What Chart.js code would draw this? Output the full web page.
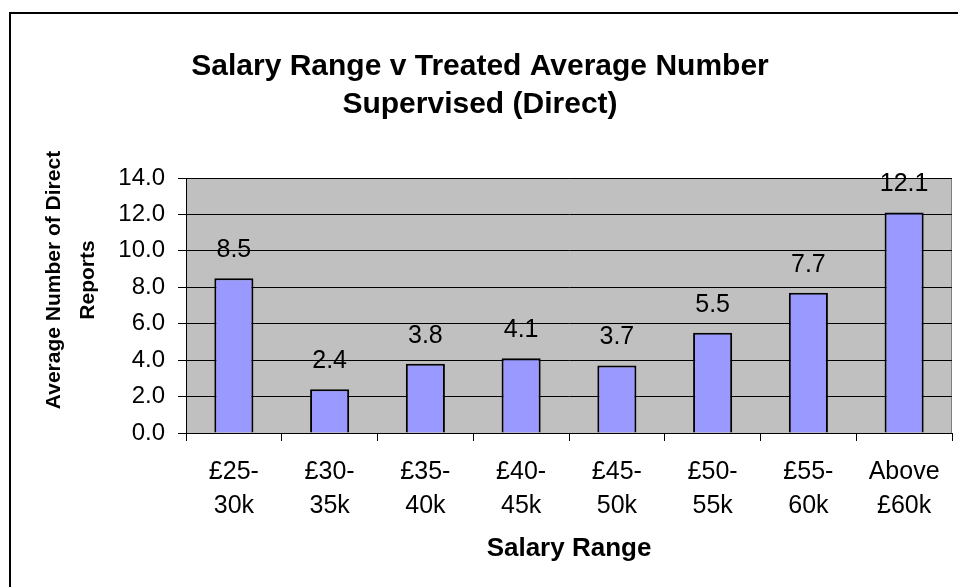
<!DOCTYPE html>
<html>
<head>
<meta charset="utf-8">
<script src="https://cdn.jsdelivr.net/npm/chart.js@4/dist/chart.umd.min.js"></script>
<style>
  html, body { margin: 0; padding: 0; background: #ffffff; }
  #wrap { position: relative; width: 958px; height: 587px; }
  canvas { display: block; }
</style>
</head>
<body>
<div id="wrap"><canvas id="c" width="958" height="587"></canvas></div>
<script>
// ---- data ----
const categories = [["£25-", "30k"], ["£30-", "35k"], ["£35-", "40k"], ["£40-", "45k"], ["£45-", "50k"], ["£50-", "55k"], ["£55-", "60k"], ["Above", "£60k"]];
const values = [8.5, 2.4, 3.8, 4.1, 3.7, 5.5, 7.7, 12.1];
const yTicks = [0, 2, 4, 6, 8, 10, 12, 14];
const titleLines = ["Salary Range v Treated Average Number", "Supervised (Direct)"];
const yTitleLines = ["Average Number of Direct", "Reports"];
const xTitle = "Salary Range";

const FONT = "'Liberation Sans', Arial, sans-serif";

const decor = {
  id: 'decor',
  beforeDraw(chart) {
    const ctx = chart.ctx;
    const a = chart.chartArea;
    ctx.save();
    ctx.fillStyle = '#ffffff';
    ctx.fillRect(0, 0, chart.width, chart.height);
    // outer frame
    ctx.strokeStyle = '#000000';
    ctx.lineWidth = 2;
    ctx.beginPath();
    ctx.moveTo(10, 600);
    ctx.lineTo(10, 13);
    ctx.lineTo(970, 13);
    ctx.stroke();
    // plot background
    ctx.fillStyle = '#C0C0C0';
    ctx.fillRect(a.left, a.top, a.right - a.left, a.bottom - a.top);
    ctx.strokeStyle = '#808080';
    ctx.lineWidth = 1;
    ctx.strokeRect(a.left + 0.5, a.top + 0.5, a.right - a.left - 1, a.bottom - a.top);
    ctx.restore();
  },
  afterDraw(chart) {
    const ctx = chart.ctx;
    const a = chart.chartArea;
    ctx.save();
    ctx.fillStyle = '#000000';
    ctx.textAlign = 'center';
    ctx.textBaseline = 'middle';
    // chart title
    ctx.font = "bold 30px " + FONT;
    ctx.fillText(titleLines[0], 480, 67);
    ctx.fillText(titleLines[1], 480, 105);
    // x title
    ctx.font = "bold 26px " + FONT;
    ctx.fillText(xTitle, (a.left + a.right) / 2, 549);
    // y title
    ctx.font = "bold 21px " + FONT;
    ctx.save();
    ctx.translate(0, 280);
    ctx.rotate(-Math.PI / 2);
    ctx.fillText(yTitleLines[0], 0, 54);
    ctx.fillText(yTitleLines[1], 0, 88);
    ctx.restore();
    // data labels
    ctx.font = "25px " + FONT;
    const meta = chart.getDatasetMeta(0);
    meta.data.forEach((bar, i) => {
      ctx.fillText(values[i].toFixed(1), bar.x, bar.y - 28);
    });
    ctx.restore();
  }
};

new Chart(document.getElementById('c'), {
  type: 'bar',
  data: {
    labels: categories,
    datasets: [{
      data: values,
      backgroundColor: '#9999FF',
      borderColor: '#000000',
      borderWidth: 2,
      categoryPercentage: 0.8,
      barPercentage: 0.51
    }]
  },
  options: {
    responsive: false,
    animation: false,
    devicePixelRatio: 1,
    layout: { padding: { top: 178, right: 6, left: 0, bottom: 0 } },
    plugins: { legend: { display: false }, tooltip: { enabled: false }, title: { display: false } },
    scales: {
      x: {
        offset: true,
        grid: { offset: true, drawOnChartArea: false, drawTicks: true, tickLength: 8, color: '#000000' },
        border: { display: true, color: '#000000', width: 1 },
        ticks: { color: '#000000', font: { family: FONT, size: 25, lineHeight: 1.36 }, padding: 14, maxRotation: 0, autoSkip: false },
        afterFit(scale) { scale.height = 154; }
      },
      y: {
        min: 0, max: 14,
        afterBuildTicks(scale) { scale.ticks = yTicks.map(v => ({ value: v })); },
        grid: { drawOnChartArea: true, drawTicks: true, tickLength: 8, color: '#000000', lineWidth: 1 },
        border: { display: true, color: '#000000', width: 1 },
        ticks: { color: '#000000', font: { family: FONT, size: 24 }, padding: 13, callback: v => Number(v).toFixed(1) },
        afterFit(scale) { scale.width = 186; }
      }
    }
  },
  plugins: [decor]
});
</script>
</body>
</html>
